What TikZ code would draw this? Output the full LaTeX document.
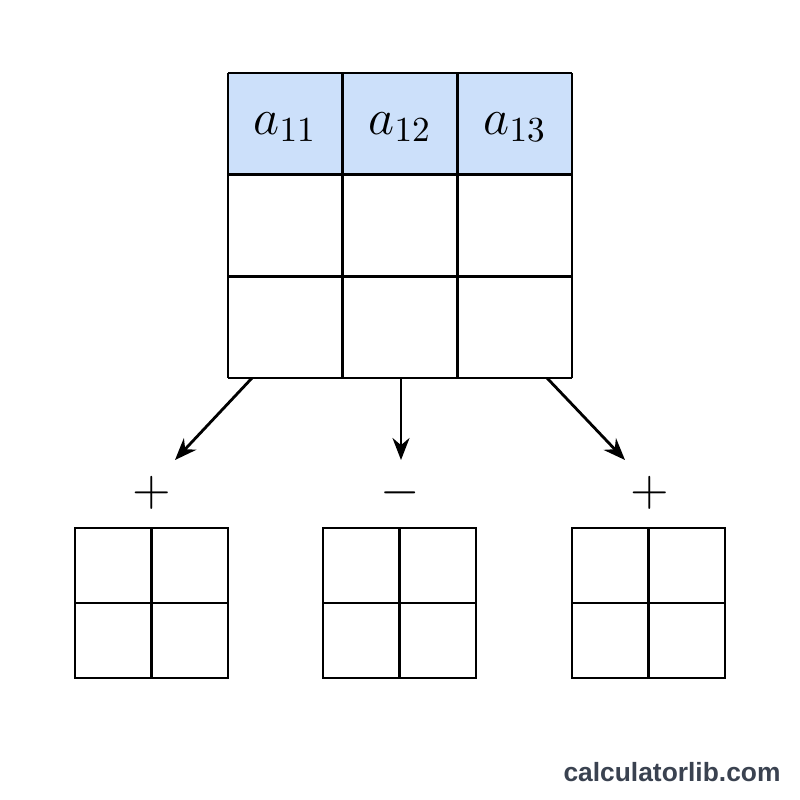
\documentclass[tikz,border=0pt]{standalone}
\usepackage{fontspec}
\newfontfamily\wmfont{Liberation Sans}
\usetikzlibrary{arrows.meta}
\definecolor{headblue}{HTML}{CCE0FA}
\definecolor{wmgray}{HTML}{3A4250}
\tikzset{
  cellline/.style={draw=black, line width=0.8pt},
  sign/.style={font=\fontsize{15}{17}\selectfont},
  entry/.style={font=\fontsize{14}{16}\selectfont},
}
\begin{document}
\begin{tikzpicture}[x=0.01cm, y=-0.01cm]
    \useasboundingbox (0,0) rectangle (800,800);
    \fill[white] (0,0) rectangle (800,800);
    % big matrix
    \fill[headblue] (228,73) rectangle (572,175);
    \foreach \i in {0,1,2,3} {
      \draw[cellline] ({228+\i*114.67},73) -- ({228+\i*114.67},378);
      \draw[cellline] (228,{73+\i*101.67}) -- (572,{73+\i*101.67});
    }
    \node[entry] (a11) at (285,127) {$a_{11}$};
    \node[entry] (a12) at (400,127) {$a_{12}$};
    \node[entry] (a13) at (515,127) {$a_{13}$};
    \coordinate (s1) at (252,378);
    \coordinate (s2) at (401,378);
    \coordinate (s3) at (547,378);
    % minors
    \foreach \x/\n in {75/m1, 323/m2, 572/m3} {
      \draw[cellline] (\x,528) rectangle ++(153,150);
      \draw[cellline] (\x+76.5,528) -- ++(0,150);
      \draw[cellline] (\x,603) -- ++(153,0);
      \coordinate (\n) at (\x+76.5,528);
    }
    \coordinate (t1) at (175,460);
    \coordinate (t2) at (401,460);
    \coordinate (t3) at (625,460);
    \foreach \k in {1,2,3}
      \draw[line width=0.8pt, -{Stealth[length=2.2mm,width=1.7mm]}] (s\k) -- (t\k);
    \node[sign] (p1) at (152,493) {$+$};
    \node[sign] (p2) at (400,493) {$-$};
    \node[sign] (p3) at (650,493) {$+$};
    \node[font=\wmfont\bfseries\fontsize{7.5}{8}\selectfont, text=wmgray] (wm) at (672,772) {calculatorlib.com};
\end{tikzpicture}
\end{document}
